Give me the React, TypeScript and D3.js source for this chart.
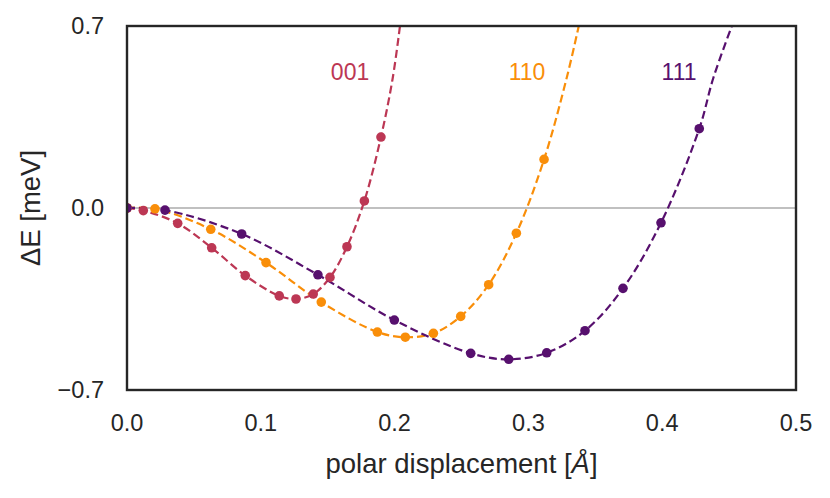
import React from "react";
import * as d3 from "d3";

// polar displacement [Å] and ΔE [meV]
const x001 = [0, 0.0122, 0.0379, 0.0633, 0.0884, 0.1138, 0.1263, 0.1392, 0.1517, 0.1644, 0.1774, 0.1898];
const e001 = [0, -0.010, -0.059, -0.153, -0.260, -0.338, -0.350, -0.331, -0.267, -0.149, 0.027, 0.273];

const x110 = [0, 0.0209, 0.0626, 0.1039, 0.1452, 0.1871, 0.208, 0.229, 0.2494, 0.2703, 0.291, 0.3117];
const e110 = [0, -0.003, -0.082, -0.210, -0.362, -0.477, -0.497, -0.482, -0.417, -0.295, -0.097, 0.187];

const x111 = [0, 0.0284, 0.0857, 0.1427, 0.1998, 0.2569, 0.2853, 0.3137, 0.3423, 0.3707, 0.3991, 0.4277];
const e111 = [0, -0.008, -0.100, -0.257, -0.431, -0.559, -0.582, -0.557, -0.472, -0.309, -0.057, 0.305];

// where the dashed fit lines leave the top of the frame
const tail001x = [0.1986, 0.2045];
const tail001e = [0.5, 0.72];
const tail110x = [0.3286, 0.3385];
const tail110e = [0.5, 0.72];
const tail111x = [0.4382, 0.4535];
const tail111e = [0.5, 0.72];

const labels = ["001", "110", "111"];
const labelX = [0.1667, 0.299, 0.4126];
const labelE = [0.523, 0.523, 0.523];
const colors = ["#bc3754", "#f98e09", "#57106e"];

const xTicks = [0, 0.1, 0.2, 0.3, 0.4, 0.5];
const yTicks = [-0.7, 0, 0.7];

const W = 830;
const H = 498;
const margin = { top: 26, right: 34, bottom: 108, left: 127 };

type Pt = { x: number; e: number };
const zip = (xs: number[], es: number[]): Pt[] => xs.map((x, i) => ({ x, e: es[i] }));

const series = [
  { pts: zip(x001, e001), tail: zip(tail001x, tail001e) },
  { pts: zip(x110, e110), tail: zip(tail110x, tail110e) },
  { pts: zip(x111, e111), tail: zip(tail111x, tail111e) },
];

export default function App() {
  const innerW = W - margin.left - margin.right;
  const innerH = H - margin.top - margin.bottom;

  const xScale = d3.scaleLinear().domain([0, 0.5]).range([0, innerW]);
  const yScale = d3.scaleLinear().domain([-0.7, 0.7]).range([innerH, 0]);

  const line = d3
    .line<Pt>()
    .x((d) => xScale(d.x))
    .y((d) => yScale(d.e))
    .curve(d3.curveCatmullRom.alpha(0.5));

  const font = "'Liberation Sans', Arial, sans-serif";
  const tickSize = 23.5;
  const labelSize = 27.5;

  return (
    <svg
      width={W}
      height={H}
      style={{ position: "absolute", left: 0, top: 0, background: "#fff" }}
      fontFamily={font}
    >
      <defs>
        <clipPath id="plot-clip">
          <rect x={0} y={0} width={innerW} height={innerH} />
        </clipPath>
      </defs>
      <g transform={`translate(${margin.left},${margin.top})`}>
        {/* zero line */}
        <line
          x1={0}
          x2={innerW}
          y1={yScale(0)}
          y2={yScale(0)}
          stroke="#c0c0c0"
          strokeWidth={2.2}
        />

        <g clipPath="url(#plot-clip)">
          {series.map((s, i) => (
            <path
              key={"l" + i}
              d={line([...s.pts, ...s.tail]) || ""}
              fill="none"
              stroke={colors[i]}
              strokeWidth={2.2}
              strokeDasharray="8,4"
            />
          ))}
          {series.map((s, i) =>
            s.pts.map((p, j) => (
              <circle
                key={`c${i}-${j}`}
                cx={xScale(p.x)}
                cy={yScale(p.e)}
                r={4.8}
                fill={colors[i]}
              />
            ))
          )}
        </g>

        {labels.map((t, i) => (
          <text
            key={t}
            x={xScale(labelX[i])}
            y={yScale(labelE[i])}
            fill={colors[i]}
            fontSize={23}
            textAnchor="middle"
            dominantBaseline="central"
          >
            {t}
          </text>
        ))}

        {/* frame */}
        <rect
          x={0}
          y={0}
          width={innerW}
          height={innerH}
          fill="none"
          stroke="#262626"
          strokeWidth={2.4}
        />

        {xTicks.map((t) => (
          <text
            key={"x" + t}
            x={xScale(t)}
            y={innerH + 33}
            fontSize={tickSize}
            fill="#262626"
            textAnchor="middle"
            dominantBaseline="central"
          >
            {t.toFixed(1)}
          </text>
        ))}
        {yTicks.map((t) => (
          <text
            key={"y" + t}
            x={-23}
            y={yScale(t)}
            fontSize={tickSize}
            fill="#262626"
            textAnchor="end"
            dominantBaseline="central"
          >
            {t < 0 ? "\u2212" + Math.abs(t).toFixed(1) : t.toFixed(1)}
          </text>
        ))}

        <text
          x={innerW / 2}
          y={innerH + 73}
          fontSize={labelSize}
          fill="#262626"
          textAnchor="middle"
          dominantBaseline="central"
        >
          polar displacement [<tspan fontStyle="italic">Å</tspan>]
        </text>
        <text
          transform={`translate(${-97},${innerH / 2}) rotate(-90)`}
          fontSize={labelSize}
          fill="#262626"
          textAnchor="middle"
          dominantBaseline="central"
        >
          ΔE [meV]
        </text>
      </g>
    </svg>
  );
}
